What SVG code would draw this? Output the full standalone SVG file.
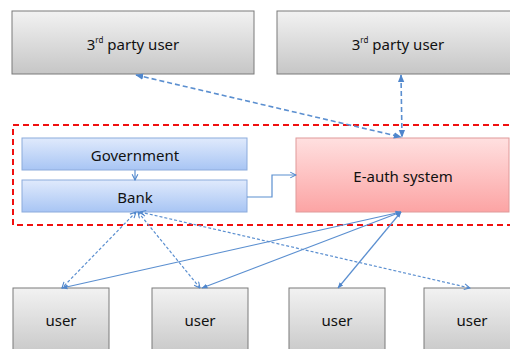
<svg xmlns="http://www.w3.org/2000/svg" width="510" height="349" viewBox="0 0 510 349">
<defs>
<linearGradient id="gGray" x1="0" y1="0" x2="0" y2="1"><stop offset="0" stop-color="#f2f2f2"/><stop offset="1" stop-color="#c6c6c6"/></linearGradient>
<linearGradient id="gBlue" x1="0" y1="0" x2="0" y2="1"><stop offset="0" stop-color="#e0eafc"/><stop offset="1" stop-color="#a8c5f4"/></linearGradient>
<linearGradient id="gPink" x1="0" y1="0" x2="0" y2="1"><stop offset="0" stop-color="#ffe0e0"/><stop offset="1" stop-color="#fca4a4"/></linearGradient>
<marker id="ah" viewBox="0 0 10 10" refX="9" refY="5" markerWidth="5" markerHeight="5" orient="auto-start-reverse"><path d="M0,1 L10,5 L0,9 z" fill="#4f86cc"/></marker>
<marker id="ao" viewBox="0 0 10 10" refX="9" refY="5" markerWidth="6" markerHeight="6" orient="auto-start-reverse"><path d="M1,1 L9,5 L1,9" fill="none" stroke="#4f86cc" stroke-width="1.5"/></marker>
</defs>
<style>
.gray{fill:url(#gGray);stroke:#7a7a7a;stroke-width:1}
.blue{fill:url(#gBlue);stroke:#8cabdc;stroke-width:1}
.pink{fill:url(#gPink);stroke:#e09a9a;stroke-width:1}
text{font-family:"Noto Sans","DejaVu Sans",sans-serif;font-size:15px;fill:#111;text-anchor:middle;dominant-baseline:central}
.c{fill:none;stroke:#5b8fd0;stroke-width:1.2}
.d{stroke-dasharray:5,3;stroke-width:1.6}
.dd{stroke-dasharray:3,2}
</style>
<g id="container"><rect x="13" y="125" width="510" height="100" fill="none" stroke="#f01010" stroke-width="2" stroke-dasharray="6,4"/></g>
<g id="tp1"><rect class="gray" x="12" y="11" width="242" height="63"/><text x="133" y="44">3<tspan font-size="8" dy="-5">rd</tspan><tspan dy="5"> party user</tspan></text></g>
<g id="tp2"><rect class="gray" x="277" y="11" width="240" height="63"/><text x="398" y="44">3<tspan font-size="8" dy="-5">rd</tspan><tspan dy="5"> party user</tspan></text></g>
<g id="gov"><rect class="blue" x="22" y="138" width="225" height="32"/><text x="135" y="155">Government</text></g>
<g id="bank"><rect class="blue" x="22" y="180" width="225" height="32"/><text x="135" y="197">Bank</text></g>
<g id="eauth"><rect class="pink" x="296" y="138" width="213" height="74"/><text x="403" y="176">E-auth system</text></g>
<g id="u1"><rect class="gray" x="13" y="288" width="96" height="70"/><text x="61" y="320">user</text></g>
<g id="u2"><rect class="gray" x="152" y="288" width="96" height="70"/><text x="200" y="320">user</text></g>
<g id="u3"><rect class="gray" x="289" y="288" width="96" height="70"/><text x="337" y="320">user</text></g>
<g id="u4"><rect class="gray" x="424" y="288" width="96" height="70"/><text x="472" y="320">user</text></g>
<g id="connectors">
<path class="c" d="M135,170 L135,180" marker-end="url(#ao)"/>
<path class="c" d="M247,197 L272,197 L272,175 L296,175" marker-end="url(#ao)"/>
<path class="c d" d="M136,75 L401,137" marker-start="url(#ah)" marker-end="url(#ah)"/>
<path class="c d" d="M401,75 L402,137" marker-start="url(#ah)" marker-end="url(#ah)"/>
<path class="c dd" d="M136,212 L62,288" marker-start="url(#ao)" marker-end="url(#ao)"/>
<path class="c dd" d="M138,212 L200,288" marker-start="url(#ao)" marker-end="url(#ao)"/>
<path class="c dd" d="M140,212 L470,288" marker-start="url(#ao)" marker-end="url(#ao)"/>
<path class="c" d="M401,212 L62,288" marker-start="url(#ah)" marker-end="url(#ah)"/>
<path class="c" d="M401,212 L202,288" marker-start="url(#ah)" marker-end="url(#ah)"/>
<path class="c" d="M401,212 L338,288" marker-start="url(#ah)" marker-end="url(#ah)"/>
</g>
</svg>
